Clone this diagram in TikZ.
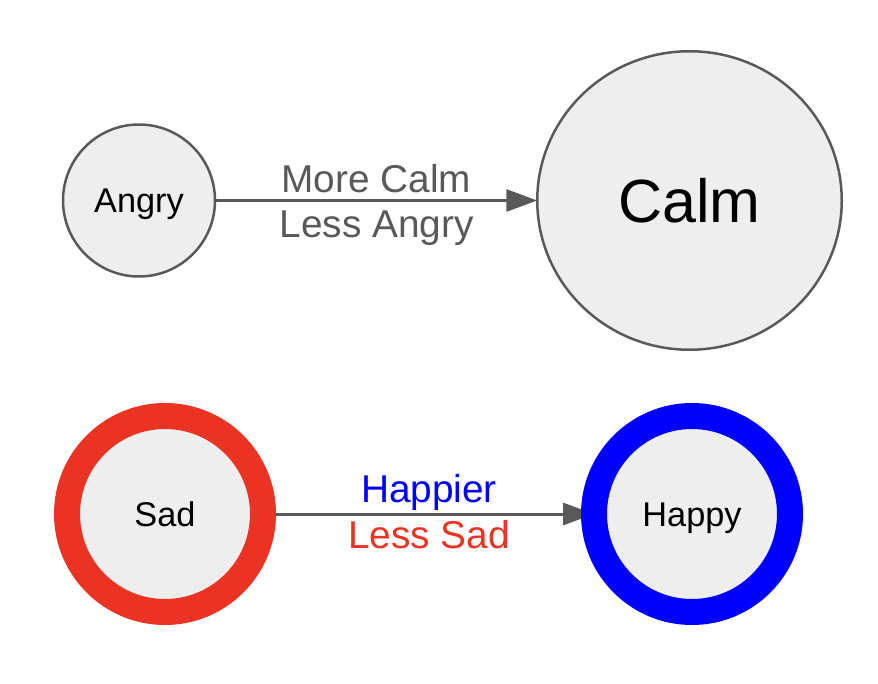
\documentclass[tikz,border=0pt]{standalone}
\usepackage{fontspec}
\setmainfont{Liberation Sans}
\usetikzlibrary{arrows.meta,backgrounds,shapes.geometric}
\definecolor{edgegray}{HTML}{595959}
\definecolor{fillgray}{HTML}{EEEEEE}
\definecolor{sadred}{HTML}{EA3323}
\definecolor{happyblue}{HTML}{0000FF}
\tikzset{
  state/.style={circle, draw=edgegray, fill=fillgray, line width=2.5pt, inner sep=0pt, outer sep=0pt,
    text=black, font=\fontsize{34.3}{34.3}\selectfont, text height=24.5pt, text depth=0pt},
  ring/.style={state, line width=26pt, minimum size=196pt},
  conn/.style={draw=edgegray, line width=3pt, -{Triangle[length=31pt,width=22pt]}, color=edgegray},
  lbl/.style={anchor=base, inner sep=0pt, font=\fontsize{38.8}{38.8}\selectfont}
}
\begin{document}
\begin{tikzpicture}[x=1pt,y=-1pt]
\useasboundingbox (0,0) rectangle (878,684);
\node[state, minimum size=152pt] (angry) at (139,200.5) {Angry};
\node[state, ellipse, minimum width=304.5pt, minimum height=298.5pt, font=\fontsize{61}{61}\selectfont, text height=43.7pt] (calm) at (689.5,200.5) {Calm};
\node[ring, draw=sadred] (sad) at (165,514) {Sad};
\node[ring, draw=happyblue] (happy) at (692,514) {Happy};
\begin{scope}[on background layer]
\draw[conn] (angry.east) -- (calm.west);
\draw[conn] (sad.east) -- (happy.west);
\end{scope}
\node[lbl, text=edgegray] (l1) at (376.5,193) {More Calm};
\node[lbl, text=edgegray] (l2) at (376.5,237.5) {Less Angry};
\node[lbl, text=happyblue] (l3) at (429,502) {Happier};
\node[lbl, text=sadred] (l4) at (429,548) {Less Sad};
\end{tikzpicture}
\end{document}
